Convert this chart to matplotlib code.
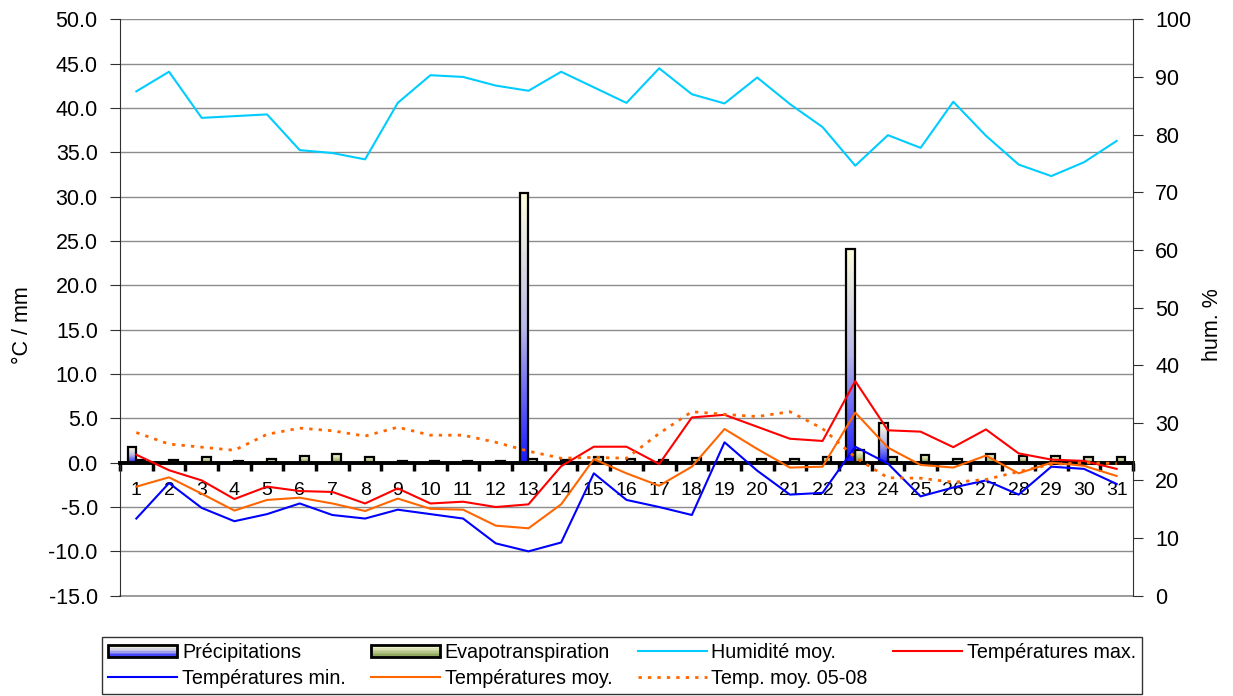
import numpy as np
import matplotlib; matplotlib.use('Agg')
import matplotlib.pyplot as plt
from matplotlib.colors import LinearSegmentedColormap
from matplotlib.patches import Rectangle
from matplotlib.legend_handler import HandlerBase
from matplotlib.lines import Line2D

plt.rcParams['font.family'] = ['Liberation Sans', 'DejaVu Sans']

# ── data ─────────────────────────────────────────────────────────────────────
days = list(range(1, 32))
precip = [1.75, 0, 0, 0, 0, 0, 0, 0, 0, 0, 0, 0, 30.4, 0, 0, 0, 0, 0, 0, 0,
          0, 0, 24.15, 4.5, 0, 0, 0, 0, 0, 0, 0]
evap = [0.35, 0.3, 0.65, 0.2, 0.45, 0.75, 0.95, 0.65, 0.2, 0.15, 0.2, 0.2, 0.4,
        0.3, 0.6, 0.4, 0.3, 0.5, 0.4, 0.4, 0.4, 0.6, 1.45, 0.6, 0.9, 0.4, 1.0,
        0.7, 0.75, 0.6, 0.65]
hum = [87.5, 90.9, 82.9, 83.2, 83.5, 77.3, 76.8, 75.7, 85.5, 90.3, 90.0, 88.5,
       87.6, 90.9, 88.2, 85.5, 91.5, 87.0, 85.4, 89.9, 85.3, 81.3, 74.6, 79.9,
       77.7, 85.7, 79.8, 74.8, 72.8, 75.2, 78.9]
tmax = [0.9, -0.85, -2.0, -4.1, -2.7, -3.2, -3.3, -4.6, -2.9, -4.6, -4.4, -5.0,
        -4.7, -0.4, 1.8, 1.8, -0.15, 5.1, 5.4, 4.05, 2.7, 2.45, 9.2, 3.65, 3.5,
        1.75, 3.75, 1.05, 0.35, 0.2, -0.7]
tmin = [-6.3, -2.3, -5.1, -6.6, -5.8, -4.6, -5.9, -6.3, -5.3, -5.8, -6.3, -9.1,
        -10.0, -9.0, -1.2, -4.2, -5.0, -5.9, 2.3, -0.9, -3.6, -3.4, 1.8, -0.1,
        -3.8, -2.8, -2.0, -3.6, -0.45, -0.7, -2.4]
tmoy = [-2.7, -1.65, -3.5, -5.4, -4.2, -3.95, -4.6, -5.45, -4.05, -5.2, -5.3,
        -7.1, -7.4, -4.7, 0.4, -1.2, -2.6, -0.45, 3.8, 1.55, -0.55, -0.45, 5.65,
        1.7, -0.25, -0.55, 0.8, -1.2, 0.0, -0.35, -1.5]
tnorm = [3.4, 2.1, 1.75, 1.4, 3.2, 3.9, 3.6, 3.0, 4.0, 3.1, 3.1, 2.3, 1.3, 0.5,
         0.6, 0.5, 3.3, 5.75, 5.45, 5.2, 5.75, 3.85, 0.6, -1.7, -1.75, -2.2,
         -1.9, -1.0, -0.2, 0.0, -0.1]

# ── style ────────────────────────────────────────────────────────────────────
cm_pr = LinearSegmentedColormap.from_list('pr', ['#1A1AFF', '#B8B8E8', '#FFFFDD'])
cm_ev = LinearSegmentedColormap.from_list('ev', ['#7F9A4A', '#FFFFDD'])
W, H = 1233, 696
fig = plt.figure(figsize=(W/100, H/100), dpi=100)
ax = fig.add_axes([120/W, 1-595.7/H, (1133-120)/W, (595.7-19.3)/H])
ax2 = ax.twinx()

x = np.array(days)
bw = 0.27

def grad_bars(xs, vals, cmap):
    for xi, v in zip(xs, vals):
        if v <= 0:
            continue
        g = np.linspace(0, 1, 64).reshape(-1, 1)
        ax.imshow(g, extent=[xi-bw/2, xi+bw/2, 0, v], origin='lower',
                  aspect='auto', cmap=cmap, zorder=2, interpolation='bilinear')
        ax.add_patch(Rectangle((xi-bw/2, 0), bw, v, fill=False,
                               ec='black', lw=1.6, zorder=3))

grad_bars(x - bw/2, precip, cm_pr)
grad_bars(x + bw/2, evap, cm_ev)

ax.plot(x, tmax, color='#FF0000', lw=1.5, zorder=4)
ax.plot(x, tmin, color='#0000FF', lw=1.5, zorder=4)
ax.plot(x, tmoy, color='#FF6600', lw=1.5, zorder=4)
ax.plot(x, tnorm, color='#FF6600', lw=2, ls=(0, (1.2, 2.2)), zorder=4)
ax2.plot(x, hum, color='#00CCFF', lw=1.5)

ax.set_xlim(0.5, 31.5)
ax.set_ylim(-15, 50)
ax2.set_ylim(0, 100)
ax.set_yticks(np.arange(-15, 51, 5))
ax.set_yticklabels([f'{v:.1f}' for v in np.arange(-15, 51, 5)])
ax2.set_yticks(np.arange(0, 101, 10))
ax.grid(axis='y', color='#8C8C8C', lw=1)
ax.axhline(-15, color='#8C8C8C', lw=1.2, clip_on=False, zorder=0.5)
ax.set_axisbelow(True)

for s in ['top']:
    ax.spines[s].set_visible(False); ax2.spines[s].set_visible(False)
ax2.spines['bottom'].set_visible(False)
ax2.spines['left'].set_visible(False)
ax.spines['right'].set_visible(False)
ax.spines['bottom'].set_position(('data', 0))
ax.spines['bottom'].set_linewidth(2.8)
ax.spines['bottom'].set_zorder(3.5)
ax.spines['left'].set_color('#303030')
ax2.spines['right'].set_color('#303030')

ax.set_xticks(x)
ax.set_xticklabels([str(d) for d in days], fontsize=14)
ax.set_xticks(np.arange(0.5, 32, 1), minor=True)
ax.tick_params(axis='x', which='major', length=0, pad=14)
ax.tick_params(axis='x', which='minor', length=6, width=2.5, direction='out')
ax.tick_params(axis='y', length=7, color='#303030', labelsize=15.5, pad=9)
ax2.tick_params(axis='y', length=7, color='#303030', labelsize=15.5, pad=9)

fig.text(22/W, 1-325/H, '°C / mm', rotation=90, ha='center', va='center', fontsize=15.5)
fig.text(1213/W, 1-325/H, 'hum. %', rotation=90, ha='center', va='center', fontsize=15.5)

# legend with striped gradient patches
class GradHandler(HandlerBase):
    def __init__(self, cmap):
        super().__init__(); self.cmap = cmap
    def create_artists(self, legend, orig, xd, yd, w, h, fs, trans):
        arts = []
        n = 8
        hh = h*0.9
        y0 = -yd + (h-hh)/2
        for i in range(n):
            arts.append(Rectangle((-xd, y0+i*hh/n), w, hh/n, fc=self.cmap(i/(n-1)),
                                  ec='none', transform=trans))
        arts.append(Rectangle((-xd, y0), w, hh, fill=False, ec='black', lw=2, transform=trans))
        return arts

hp = Rectangle((0, 0), 1, 1); he = Rectangle((0, 0), 1, 1)
lh = Line2D([], [], color='#00CCFF', lw=1.5)
lx = Line2D([], [], color='#FF0000', lw=1.5)
ln = Line2D([], [], color='#0000FF', lw=1.5)
lm = Line2D([], [], color='#FF6600', lw=1.5)
ld = Line2D([], [], color='#FF6600', lw=2, ls=(0, (1.2, 2.2)))
handles = [hp, ln, he, lm, lh, ld, lx]
labels = ['Précipitations', 'Températures min.', 'Evapotranspiration',
          'Températures moy.', 'Humidité moy.', 'Temp. moy. 05-08', 'Températures max.']
leg = fig.legend(handles, labels, loc='lower left', ncol=4, mode='expand',
                 bbox_to_anchor=(102/W, 2/H, 1040/W, 62/H), fontsize=14.2,
                 handler_map={hp: GradHandler(cm_pr), he: GradHandler(cm_ev)},
                 handlelength=3.5, handletextpad=0.25, frameon=True, fancybox=False,
                 borderaxespad=0, labelspacing=0.35, borderpad=0.3)
leg.get_frame().set_edgecolor('black'); leg.get_frame().set_linewidth(1)

plt.savefig('out.png', dpi=100)
